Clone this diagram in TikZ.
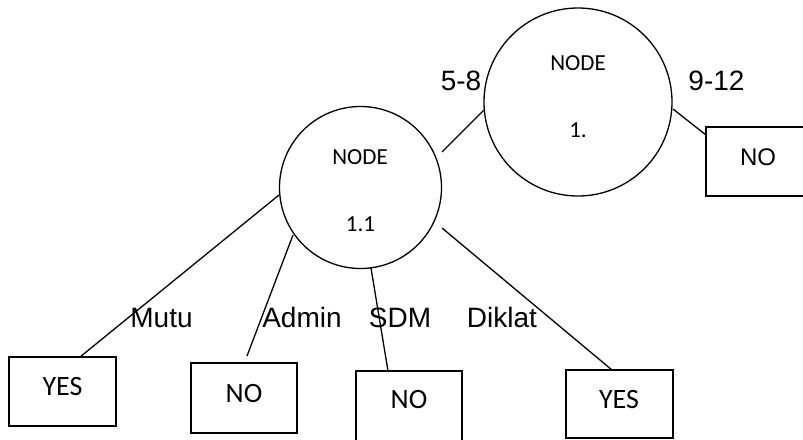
\documentclass[tikz,border=0pt]{standalone}
\usepackage{fontspec}
\setmainfont{Liberation Sans}
\newfontfamily\calibri{Carlito}
\usetikzlibrary{calc}
\tikzset{
  every picture/.style={x=1pt,y=-1pt},
  ln/.style={line width=1.3pt,black},
  circ/.style={circle,draw,line width=1.3pt,inner sep=0pt,minimum size=#1},
  leaf/.style={rectangle,draw,line width=1.3pt,inner sep=0pt,minimum width=106pt,minimum height=69pt},
  lbl/.style={anchor=base,inner sep=0pt,font=\fontsize{28}{32}\selectfont},
  ctxt/.style={anchor=base,inner sep=0pt,font=\calibri\fontsize{23}{27}\selectfont},
  btxt/.style={anchor=base,inner sep=0pt,font=\calibri\fontsize{28}{32}\selectfont},
}
\begin{document}
\begin{tikzpicture}
\useasboundingbox (0,0) rectangle (803,439);
\clip (0,0) rectangle (803,439);
% circles
\node[circ=188pt] (n1) at (578,102) {};
\node[circ=162pt] (n11) at (360.5,187.5) {};
\node[ctxt] (n1a) at (578,70) {NODE};
\node[ctxt] (n1b) at (578,137) {1.};
\node[ctxt] (n11a) at (360,164) {NODE};
\node[ctxt] (n11b) at (360.5,231) {1.1};
% leaves
\node[leaf,minimum width=104pt,minimum height=69pt] (no1) at (758,161.5) {};
\node[anchor=base,inner sep=0pt,font=\fontsize{24}{28}\selectfont] (no1t) at (758,165) {NO};
\node[leaf,minimum width=107pt,minimum height=69pt] (yes1) at (62.5,391.5) {};
\node[btxt] (yes1t) at (62.5,395) {YES};
\node[leaf,minimum width=106pt,minimum height=70pt] (no2) at (244,398) {};
\node[btxt] (no2t) at (244,402) {NO};
\node[leaf,minimum width=106pt,minimum height=72pt] (no3) at (409,407) {};
\node[btxt] (no3t) at (409,408) {NO};
\node[leaf,minimum width=107pt,minimum height=68pt] (yes2) at (619.5,404) {};
\node[btxt] (yes2t) at (619,408) {YES};
% edges
\draw[ln] ($(n1.center)+(-94,8)$) -- ($(n11.center)+(81.5,-35.5)$);
\draw[ln] ($(n1.center)+(95,7)$) -- ($(no1.center)+(-52,-26.5)$);
\draw[ln] ($(n11.center)+(-81.5,7.5)$) -- ($(yes1.center)+(17.5,-34.5)$);
\draw[ln] ($(n11.center)+(-67.5,47.5)$) -- ($(no2.center)+(3,-42)$);
\draw[ln] ($(n11.center)+(10.5,80.5)$) -- ($(no3.center)+(-21,-36)$);
\draw[ln] ($(n11.center)+(81.5,40.5)$) -- ($(yes2.center)+(-7.5,-34)$);
% labels
\node[lbl] (l58) at (461,90) {5-8};
\node[lbl] (l912) at (716.5,90) {9-12};
\node[lbl] (lmutu) at (161.5,327) {Mutu};
\node[lbl] (ladmin) at (302,327) {Admin};
\node[lbl] (lsdm) at (400,327) {SDM};
\node[lbl] (ldiklat) at (502,327) {Diklat};
\end{tikzpicture}
\end{document}
